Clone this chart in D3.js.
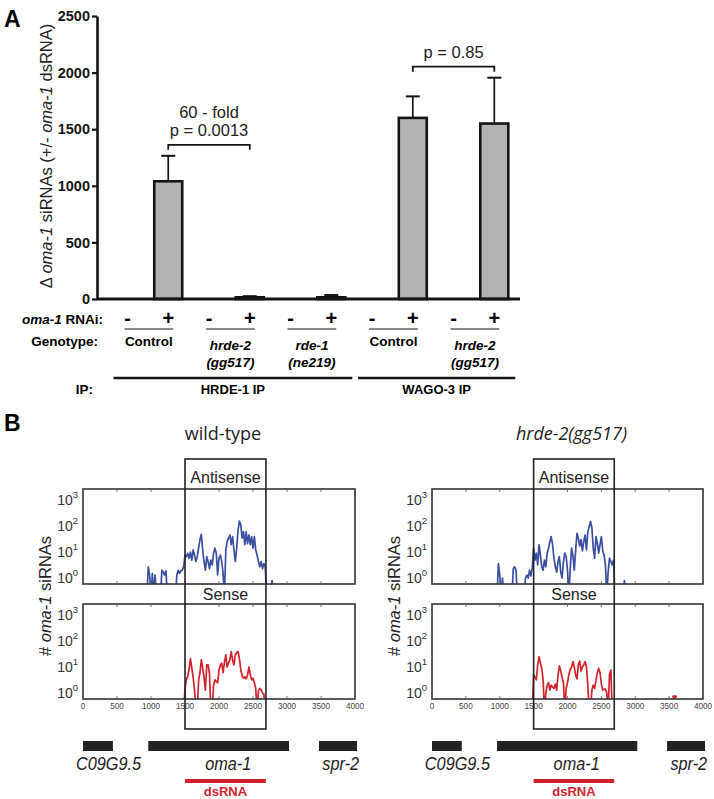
<!DOCTYPE html>
<html><head><meta charset="utf-8">
<script src="https://cdn.jsdelivr.net/npm/d3@7"></script>
<style>
body{margin:0;background:#fff}
svg{display:block}
text{font-family:"Liberation Sans",Arial,Helvetica,sans-serif}
</style>
</head><body>
<svg id="c" width="714" height="799"></svg>
<script>
// ---------------- Panel A data ----------------
const conditions = ["ctl-","ctl+","hrde2-","hrde2+","rde1-","rde1+","wctl-","wctl+","whrde2-","whrde2+"];
const rnaiSigns = ["-","+","-","+","-","+","-","+","-","+"];
const siRNAmean = [0,1040,0,15,0,15,0,1600,0,1550];
const siRNAerr  = [0,225,0,10,0,20,0,190,0,405];
const genotypeLine1 = ["Control","hrde-2","rde-1","Control","hrde-2"];
const genotypeLine2 = ["","(gg517)","(ne219)","","(gg517)"];
const genotypeItalic = [false,true,true,false,true];
const ipGroups = ["HRDE-1 IP","WAGO-3 IP"];
const ipSpan = [[0,5],[6,9]];           // condition index range of each IP group
const yTicksA = [0,500,1000,1500,2000,2500];
const comparisons = [
  {a:1, b:3, lines:["60 - fold","p = 0.0013"]},
  {a:7, b:9, lines:["p = 0.85"]}
];

// ---------------- Panel B data ----------------
const binStart = 940, binStep = 20, binEnd = 2860;
const bins = d3.range(binStart, binEnd + 1, binStep);   // bp positions of the coverage bins
const wtAntisense = [
  0,2.7,1.3,0,1.5,0,1.3,0,0,0,0,2.0,1.7,1.3,1.9,0,0,0,0,0,0,0,1.3,2.0,1.5,1.9,2.0,2.7,
  7.6,6.6,8.9,5.8,9.8,4.9,12,7.6,4.3,6.6,
  14,30,48,12,4.3,2.0,6.6,4.3,2.3,4.9,
  3.2,8.9,14,8.9,1.3,5.8,7.6,4.3,1.5,0,
  12,25,34,45,19,39,12,4.3,14,71,
  155,110,34,60,19,60,21,45,19,39,
  14,39,12,7.6,4.3,2.7,4.3,2.3,3.6,2.7,
  0,0,0,0,0.8,0,0,0,0
];
const wtSense = [
  0,0,0,0,0,0,0,0,0,0,0,0,0,0,0,0,0,0,0,0,0,0,0,0,0,0,0,0,
  1.5,3.2,4.5,8,21,9,4,1.3,0,0,
  3,6,19,9,4,1.3,12,12,5.7,0,
  0,2.0,3.2,2.8,2.5,7.6,12,14,6,15,
  29,10,14,19,39,18,12,29,35,40,
  21,8,4.5,3.7,4.2,3.5,5,10,5,3.2,
  3.7,2.5,1.5,0,1.2,1.5,1.3,1.0,0.9,0,
  0,0,0,0,0,0,0,0,0
];
const mutAntisense = [
  0,0,3.6,1.3,0,1.0,0,0,0,0,0,0,0,2.3,2.7,2.0,0,0,0,0,0,0,1.0,1.3,1.0,2.0,1.2,2.5,
  14,4.9,9,3.2,19,7.6,2.7,2.0,4.9,2.7,
  9,14,25,39,19,5.8,2.7,1.7,4.3,6.6,
  1.7,1.0,4.3,9,6.6,2,0,2.3,14,7.6,
  2,11,52,34,17,30,11,25,45,12,
  60,93,148,85,14,5.8,39,22,9,19,
  39,11,7.6,3.2,0,1.7,5.8,4.3,3.2,4.9,
  0,0,0,0,0,0,0,0.8,0
];
const mutSense = [
  0,0,0,0,0,0,0,0,0,0,0,0,0,0,0,0,0,0,0,0,0,0,0,0,0,0,0,0,
  5.0,4,3.2,12,25,14,9,3.2,0,1.0,
  2.0,2.5,1.3,2.0,1.7,1.5,2.2,1.3,5,11,
  7,4,2.5,0,1.5,2.5,5,8,10,16,
  10,5,3.5,12,17,7,10,12,16,10,
  2,0,0,1.3,2.0,1.5,3,6,8.9,6,
  2.2,1.3,1.4,1.4,1.0,0,5,7.6,0,0,
  0,0,0,0,0,0,0,0,0
];
const mutSenseFarPos = [3550,3570,3590,3610];
const mutSenseFarVal = [0.68,0.72,0.72,0.68];
const xTicksB = [0,500,1000,1500,2000,2500,3000,3500,4000];
const yTicksB = [1,10,100,1000];
const genes = ["C09G9.5","oma-1","spr-2"];
const geneStart = [0,960,3470];
const geneEnd = [440,3030,4030];
const geneLabelPos = [375,2135,3790];
const dsRNAspan = [1500,2690];

// ---------------- drawing ----------------
const svg = d3.select("#c");
const ink = "#151515";

// Panel A
svg.append("text").attr("x",4).attr("y",27).attr("font-size",23).attr("font-weight","bold").text("A");
const yA = d3.scaleLinear().domain([0,2500]).range([299,16]);
const xA = d3.scalePoint().domain(conditions).range([127.5,494.3]);
const barW = 28;

const gA = svg.append("g");
const axA = gA.append("g").attr("transform","translate(97,0)")
  .call(d3.axisLeft(yA).tickValues(yTicksA).tickFormat(d3.format("d")).tickSize(5).tickSizeOuter(0).tickPadding(2));
axA.select(".domain").attr("stroke",ink).attr("stroke-width",2.6);
axA.selectAll(".tick line").attr("stroke",ink).attr("stroke-width",2.2);
axA.selectAll(".tick text").attr("font-size",14.5).attr("font-weight","bold").attr("fill",ink)
   .style("font-family","'Liberation Sans',Arial,sans-serif");

// y label A
svg.append("text").attr("transform","translate(52,156) rotate(-90)").attr("text-anchor","middle")
  .attr("font-size",16.5).attr("fill","#222")
  .call(t=>{
    t.append("tspan").text("\u0394 ");
    t.append("tspan").attr("font-style","italic").text("oma-1");
    t.append("tspan").text(" siRNAs (+/- ");
    t.append("tspan").attr("font-style","italic").text("oma-1");
    t.append("tspan").text(" dsRNA)");
  });

// bars
const barData = conditions.map((c,i)=>({c, v:siRNAmean[i], e:siRNAerr[i]}));
gA.selectAll("rect.bar").data(barData.filter(d=>d.v>0)).join("rect").attr("class","bar")
  .attr("x",d=>xA(d.c)-barW/2).attr("width",barW)
  .attr("y",d=>yA(d.v)).attr("height",d=>yA(0)-yA(d.v))
  .attr("fill","#b2b2b2").attr("stroke",ink).attr("stroke-width",2.6);
// error bars
const errG = gA.selectAll("g.err").data(barData.filter(d=>d.e>0)).join("g").attr("class","err");
errG.append("line").attr("x1",d=>xA(d.c)).attr("x2",d=>xA(d.c))
  .attr("y1",d=>yA(d.v)).attr("y2",d=>yA(d.v+d.e)).attr("stroke",ink).attr("stroke-width",1.7);
errG.append("line").attr("x1",d=>xA(d.c)-7).attr("x2",d=>xA(d.c)+7)
  .attr("y1",d=>yA(d.v+d.e)).attr("y2",d=>yA(d.v+d.e)).attr("stroke",ink).attr("stroke-width",2);
// x axis line
gA.append("line").attr("x1",97).attr("x2",520).attr("y1",yA(0)).attr("y2",yA(0))
  .attr("stroke",ink).attr("stroke-width",2.8);

// comparisons
comparisons.forEach(cm=>{
  const top = Math.max(siRNAmean[cm.a]+siRNAerr[cm.a], siRNAmean[cm.b]+siRNAerr[cm.b]);
  const by = yA(top) - 11;
  const x1 = xA(conditions[cm.a]), x2 = xA(conditions[cm.b]);
  gA.append("path").attr("d",`M${x1},${by+5}V${by}H${x2}V${by+5}`)
    .attr("fill","none").attr("stroke",ink).attr("stroke-width",1.8);
  const cx = (x1+x2)/2;
  cm.lines.slice().reverse().forEach((ln,k)=>{
    gA.append("text").attr("x",cx).attr("y",by-9-k*18).attr("text-anchor","middle")
      .attr("font-size",16.5).attr("fill","#222").text(ln);
  });
});

// rows under panel A
const rowG = svg.append("g");
rowG.append("text").attr("x",103).attr("y",324).attr("text-anchor","end").attr("font-size",13.5).attr("font-weight","bold")
  .call(t=>{t.append("tspan").attr("font-style","italic").text("oma-1");t.append("tspan").text(" RNAi:");});
rowG.selectAll("text.sign").data(conditions).join("text").attr("class","sign")
  .attr("x",d=>xA(d)).attr("y",325).attr("text-anchor","middle").attr("font-size",20).attr("font-weight","bold")
  .text((d,i)=>rnaiSigns[i]);
for(let g=0; g<5; g++){
  const xm = xA(conditions[2*g]), xp = xA(conditions[2*g+1]);
  rowG.append("line").attr("x1",xm-3).attr("x2",xp+5).attr("y1",329).attr("y2",329)
    .attr("stroke",ink).attr("stroke-width",1.2);
  const cx = (xm+xp)/2+1;
  const two = genotypeLine2[g] !== "";
  rowG.append("text").attr("x",cx).attr("y",two?350:346).attr("text-anchor","middle").attr("font-size",13.5)
    .attr("font-weight","bold").attr("font-style",genotypeItalic[g]?"italic":"normal").text(genotypeLine1[g]);
  if(two) rowG.append("text").attr("x",cx).attr("y",367).attr("text-anchor","middle").attr("font-size",13.5)
    .attr("font-weight","bold").attr("font-style","italic").text(genotypeLine2[g]);
}
rowG.append("text").attr("x",98).attr("y",346).attr("text-anchor","end").attr("font-size",13.5).attr("font-weight","bold").text("Genotype:");
rowG.append("text").attr("x",93).attr("y",394).attr("text-anchor","end").attr("font-size",13.5).attr("font-weight","bold").text("IP:");
ipGroups.forEach((ip,k)=>{
  const x1 = xA(conditions[ipSpan[k][0]])-14, x2 = xA(conditions[ipSpan[k][1]])+21;
  rowG.append("line").attr("x1",x1).attr("x2",x2).attr("y1",378).attr("y2",378).attr("stroke",ink).attr("stroke-width",2.6);
  rowG.append("text").attr("x",(x1+x2)/2).attr("y",394).attr("text-anchor","middle").attr("font-size",13)
    .attr("font-weight","bold").text(ip);
});

// Panel B
svg.append("text").attr("x",4).attr("y",431).attr("font-size",23).attr("font-weight","bold").text("B");

const plotTopA = 489, plotBotA = 584, plotTopS = 604, plotBotS = 699;
const logDomain = [0.589, 2630];
const blue = "#3a4ea2", red = "#d3222c";

function drawPanel(id, x0, x1, title, titleItalic, labelX, anti, sense, farPos, farVal){
  const g = svg.append("g");
  const x = d3.scaleLinear().domain([0,4000]).range([x0,x1]);
  g.append("text").attr("x",(x0+x1)/2+4).attr("y",440).attr("text-anchor","middle")
    .style("font-family","'Open Sans',sans-serif").attr("font-size",18).attr("fill","#222")
    .attr("font-style",titleItalic?"italic":"normal").text(title);
  // y label
  g.append("text").attr("transform",`translate(${labelX},596) rotate(-90)`).attr("text-anchor","middle")
    .attr("font-size",16.5).attr("fill","#222")
    .call(t=>{t.append("tspan").text("# ");t.append("tspan").attr("font-style","italic").text("oma-1");t.append("tspan").text(" siRNAs");});

  [[plotTopA,plotBotA,anti,blue,"a"],[plotTopS,plotBotS,sense,red,"s"]].forEach(([top,bot,vals,col,k])=>{
    const y = d3.scaleLog().domain(logDomain).range([bot,top]);
    const cid = `clip-${id}-${k}`;
    g.append("clipPath").attr("id",cid).append("rect").attr("x",x0).attr("y",top).attr("width",x1-x0).attr("height",bot-top);
    const line = d3.line().x(d=>x(d[0])).y(d=>d[1]>0?y(d[1]):bot+12);
    g.append("path").attr("clip-path",`url(#${cid})`).attr("d",line(bins.map((b,i)=>[b,vals[i]])))
      .attr("fill","none").attr("stroke",col).attr("stroke-width",1.7).attr("stroke-linejoin","round");
    if(k==="s" && farPos){
      g.append("path").attr("clip-path",`url(#${cid})`).attr("d",line(farPos.map((p,i)=>[p,farVal[i]])))
        .attr("fill","none").attr("stroke",col).attr("stroke-width",3);
    }
    g.append("rect").attr("x",x0).attr("y",top).attr("width",x1-x0).attr("height",bot-top)
      .attr("fill","none").attr("stroke","#333").attr("stroke-width",1.6);
    // inward ticks
    xTicksB.forEach(t=>{
      g.append("line").attr("x1",x(t)).attr("x2",x(t)).attr("y1",top).attr("y2",top+3).attr("stroke","#555").attr("stroke-width",0.8);
      g.append("line").attr("x1",x(t)).attr("x2",x(t)).attr("y1",bot).attr("y2",bot-3).attr("stroke","#555").attr("stroke-width",0.8);
    });
    yTicksB.forEach(t=>{
      const tx = g.append("text").attr("x",x0-5).attr("y",y(t)+5).attr("text-anchor","end")
        .attr("font-size",14).attr("fill","#333");
      tx.append("tspan").text("10");
      tx.append("tspan").attr("dy",-7).attr("font-size",9.5).text(String(Math.round(Math.log10(t))));
    });
  });
  // x tick labels
  g.selectAll("text.xt").data(xTicksB).join("text").attr("class","xt")
    .attr("x",d=>x(d)).attr("y",709).attr("text-anchor","middle").attr("font-size",8.2).attr("fill","#444").text(d=>d);
  // highlight box
  g.append("rect").attr("x",x(dsRNAspan[0])).attr("y",459).attr("width",x(dsRNAspan[1])-x(dsRNAspan[0]))
    .attr("height",729-459).attr("fill","none").attr("stroke","#222").attr("stroke-width",1.6);
  const cx = (x(dsRNAspan[0])+x(dsRNAspan[1]))/2;
  g.append("text").attr("x",cx).attr("y",483).attr("text-anchor","middle").attr("font-size",16).attr("fill","#222").text("Antisense");
  g.append("text").attr("x",cx).attr("y",600).attr("text-anchor","middle").attr("font-size",16).attr("fill","#222").text("Sense");
  // genes
  genes.forEach((gn,i)=>{
    const gx0 = x(geneStart[i]), gx1 = x(geneEnd[i]);
    g.append("rect").attr("x",gx0).attr("y",741).attr("width",gx1-gx0).attr("height",10).attr("fill","#222");
  });
  genes.forEach((gn,i)=>{
    const lx = x(geneLabelPos[i]);
    g.append("text").attr("x",lx).attr("y",770).attr("text-anchor","middle")
      .attr("font-size",18.5).attr("font-style","italic").attr("fill","#222")
      .attr("transform",`translate(${lx*0.12},0) scale(0.88,1)`)
      .text(gn);
  });
  g.append("line").attr("x1",x(dsRNAspan[0])).attr("x2",x(dsRNAspan[1])).attr("y1",781).attr("y2",781)
    .attr("stroke",red).attr("stroke-width",4);
  g.append("text").attr("x",cx).attr("y",796).attr("text-anchor","middle").attr("font-size",13).attr("font-weight","bold")
    .attr("fill",red).text("dsRNA");
}
drawPanel("wt", 83, 355, "wild-type", false, 51, wtAntisense, wtSense, null, null);
drawPanel("mut", 432, 703, "hrde-2(gg517)", true, 400, mutAntisense, mutSense, mutSenseFarPos, mutSenseFarVal);
</script>
</body></html>
